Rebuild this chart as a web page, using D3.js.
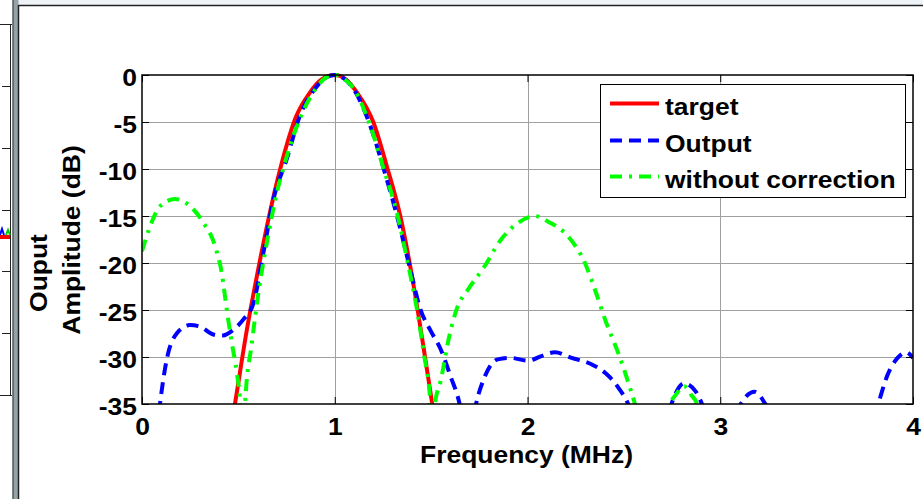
<!DOCTYPE html>
<html><head><meta charset="utf-8">
<script src="https://cdn.jsdelivr.net/npm/d3@7"></script>
<style>
body{margin:0;background:#fff;}
svg{display:block;}
text{font-family:"Liberation Sans",Arial,Helvetica,sans-serif;font-weight:bold;fill:#000;}
</style>
</head><body>
<svg id="chart" width="923" height="499"></svg>
<script>
// ---- data ----
const xTicks = [0, 1, 2, 3, 4];
const yTicks = [0, -5, -10, -15, -20, -25, -30, -35];
const xTickLabels = ["0", "1", "2", "3", "4"];
const yTickLabels = ["0", "-5", "-10", "-15", "-20", "-25", "-30", "-35"];

const targetFreq = [0.40, 0.483, 0.544, 0.596, 0.648, 0.717, 0.80, 0.87, 0.93, 1.0, 1.06, 1.115, 1.20, 1.27, 1.34, 1.41, 1.46, 1.505, 1.58];
const targetDb   = [-45, -34.9, -27.1, -21.4, -16.1, -10.0, -4.4, -1.9, -0.5, 0, -0.5, -1.85, -5.0, -9.7, -15.0, -22.5, -28.9, -34.9, -45];

const outputFreq = [0.06, 0.094, 0.128, 0.18, 0.249, 0.30, 0.37, 0.42, 0.474, 0.526, 0.578, 0.63, 0.682, 0.75, 0.82, 0.90, 0.96, 1.0, 1.05, 1.098, 1.184, 1.254, 1.323, 1.392, 1.444, 1.50, 1.55, 1.60, 1.65, 1.69, 1.733, 1.776, 1.846, 1.915, 2.003, 2.072, 2.142, 2.229, 2.334, 2.404, 2.473, 2.526, 2.64, 2.752, 2.813, 2.874, 2.909, 3.0, 3.101, 3.179, 3.24, 3.5, 3.816, 3.868, 3.92, 3.964, 4.0];
const outputDb   = [-42, -34.9, -30.3, -27.5, -26.6, -26.75, -27.6, -27.7, -27.1, -26.0, -24.3, -18.9, -13.2, -9.0, -4.3, -1.4, -0.2, 0, -0.4, -1.5, -5.4, -10.0, -15.0, -20.7, -24.9, -27.3, -29.2, -32.0, -35.2, -40, -35.0, -32.2, -30.25, -30.1, -30.4, -29.9, -29.5, -30.1, -30.8, -31.7, -33.3, -35.2, -45, -34.7, -32.8, -33.7, -35.2, -42, -35.2, -33.7, -35.2, -50, -35.2, -31.9, -30.1, -29.5, -30.1];

const withoutFreq = [0, 0.042, 0.094, 0.171, 0.249, 0.318, 0.379, 0.414, 0.44, 0.466, 0.492, 0.509, 0.522, 0.535, 0.57, 0.604, 0.648, 0.70, 0.752, 0.82, 0.90, 0.96, 1.0, 1.04, 1.10, 1.184, 1.254, 1.323, 1.375, 1.427, 1.462, 1.496, 1.508, 1.52, 1.55, 1.593, 1.636, 1.689, 1.776, 1.863, 1.95, 2.037, 2.107, 2.212, 2.299, 2.351, 2.404, 2.473, 2.526, 2.56, 2.65, 2.735, 2.77, 2.813, 2.848, 2.883, 2.95];
const withoutDb   = [-18.75, -16.1, -13.95, -13.2, -13.95, -15.7, -18.2, -21.1, -25.0, -28.5, -31.7, -34.9, -42, -34.9, -28.5, -23.2, -17.8, -12.5, -8.6, -4.6, -1.5, -0.2, 0, -0.3, -1.5, -5.4, -10.0, -14.7, -19.6, -25.0, -29.6, -34.9, -40, -35.0, -32.5, -27.9, -24.7, -22.9, -20.4, -17.5, -15.75, -15.0, -15.6, -17.2, -20.05, -22.9, -26.1, -29.7, -32.9, -35.2, -45, -35.2, -34.0, -33.1, -34.0, -35.2, -45];

const seriesNames = ["target", "Output", "without correction"];
const seriesColors = ["#ff0000", "#0000ff", "#00ff00"];
const seriesDash = [null, "12,7", "12,7,3,7"];

// ---- layout ----
const svg = d3.select("#chart");
const W = 923, H = 499;
const L = 142, R = 913, T = 75, B = 404;
const SX = 1.15; // horizontal glyph stretch
const FS = 23;

// window chrome around the figure
svg.append("rect").attr("x", 0).attr("y", 0).attr("width", W).attr("height", H).attr("fill", "#fff");
svg.append("rect").attr("x", 16).attr("y", 0).attr("width", W - 16).attr("height", 5).attr("fill", "#eef3f8");
svg.append("line").attr("x1", 18).attr("x2", W).attr("y1", 5.5).attr("y2", 5.5).attr("stroke", "#222").attr("stroke-width", 1.5);
// neighbour figure fragment
const lf = svg.append("g").attr("stroke", "#222").attr("stroke-width", 1);
lf.append("line").attr("x1", 0).attr("x2", 12).attr("y1", 24.5).attr("y2", 24.5);
lf.append("line").attr("x1", 10.5).attr("x2", 10.5).attr("y1", 24).attr("y2", 396);
lf.append("line").attr("x1", 0).attr("x2", 12).attr("y1", 395.5).attr("y2", 395.5);
[86, 148, 210, 271, 333].forEach(v => lf.append("line").attr("x1", 2).attr("x2", 10).attr("y1", v + 0.5).attr("y2", v + 0.5));
svg.append("rect").attr("x", 0).attr("y", 235).attr("width", 10).attr("height", 4).attr("fill", "#ff0000");
svg.append("path").attr("d", "M0,235 L2,229 L4,235").attr("fill", "none").attr("stroke", "#0000ff").attr("stroke-width", 2);
svg.append("path").attr("d", "M6,235 L8,230 L10,235").attr("fill", "none").attr("stroke", "#00cc00").attr("stroke-width", 2);
svg.append("rect").attr("x", 12.5).attr("y", 0).attr("width", 6).attr("height", H).attr("fill", "#94a3a7");
svg.append("line").attr("x1", 13).attr("x2", 13).attr("y1", 0).attr("y2", H).attr("stroke", "#333").attr("stroke-width", 1);
svg.append("line").attr("x1", 18.5).attr("x2", 18.5).attr("y1", 5).attr("y2", H).attr("stroke", "#222").attr("stroke-width", 1.5);

// scales
const x = d3.scaleLinear().domain([0, 4]).range([L, R]);
const y = d3.scaleLinear().domain([-35, 0]).range([B, T]);

// grid
const grid = svg.append("g").attr("stroke", "#a0a0a0").attr("stroke-width", 1);
xTicks.slice(1, -1).forEach(v => grid.append("line").attr("x1", Math.round(x(v)) + 0.5).attr("x2", Math.round(x(v)) + 0.5).attr("y1", T).attr("y2", B));
yTicks.slice(1, -1).forEach(v => grid.append("line").attr("x1", L).attr("x2", R).attr("y1", Math.round(y(v)) + 0.5).attr("y2", Math.round(y(v)) + 0.5));

// clip
svg.append("clipPath").attr("id", "clip").append("rect").attr("x", L).attr("y", T - 2).attr("width", R - L).attr("height", B - T + 2);

const line = d3.line().x(d => x(d[0])).y(d => y(d[1])).curve(d3.curveMonotoneX);
const series = [
  d3.zip(targetFreq, targetDb),
  d3.zip(outputFreq, outputDb),
  d3.zip(withoutFreq, withoutDb)
];
const plot = svg.append("g").attr("clip-path", "url(#clip)");
series.forEach((s, i) => {
  plot.append("path").datum(s).attr("d", line)
    .attr("fill", "none").attr("stroke", seriesColors[i]).attr("stroke-width", 4)
    .attr("stroke-dasharray", seriesDash[i]).attr("stroke-linejoin", "round");
});

// axes
function stretchText(sel) {
  sel.each(function () {
    const t = d3.select(this);
    t.attr("transform", `scale(${SX},1)`).attr("x", (+t.attr("x") || 0) / SX);
  });
}
const axL = svg.append("g").attr("transform", `translate(${L},0)`)
  .call(d3.axisLeft(y).tickValues(yTicks).tickFormat((d, i) => yTickLabels[i]).tickSizeInner(-7).tickSizeOuter(0).tickPadding(5));
const axB = svg.append("g").attr("transform", `translate(0,${B})`)
  .call(d3.axisBottom(x).tickValues(xTicks).tickFormat((d, i) => xTickLabels[i]).tickSizeInner(-7).tickSizeOuter(0).tickPadding(15));
const axT = svg.append("g").attr("transform", `translate(0,${T})`)
  .call(d3.axisTop(x).tickValues(xTicks).tickFormat("").tickSizeInner(-7).tickSizeOuter(0));
const axR = svg.append("g").attr("transform", `translate(${R},0)`)
  .call(d3.axisRight(y).tickValues(yTicks).tickFormat("").tickSizeInner(-7).tickSizeOuter(0));
[axL, axB, axT, axR].forEach(a => {
  a.select(".domain").remove();
  a.selectAll("line").attr("stroke", "#000").attr("stroke-width", 1);
  a.selectAll("text").attr("font-size", FS).attr("font-family", null).style("font-weight", "bold").attr("fill", "#000");
});
axL.selectAll("text").attr("dy", "0.45em").call(stretchText);
axB.selectAll("text").call(stretchText);

// frame
svg.append("rect").attr("x", L).attr("y", T).attr("width", R - L).attr("height", B - T)
  .attr("fill", "none").attr("stroke", "#000").attr("stroke-width", 1.5);

// axis titles
svg.append("text").attr("transform", `translate(${(L + R) / 2 - 1},463) scale(${SX},1)`)
  .attr("text-anchor", "middle").attr("font-size", FS).text("Frequency (MHz)");
svg.append("text").attr("transform", `translate(47,273) rotate(-90) scale(${SX},1)`)
  .attr("text-anchor", "middle").attr("font-size", FS).text("Ouput");
svg.append("text").attr("transform", `translate(80,240) rotate(-90) scale(${SX},1)`)
  .attr("text-anchor", "middle").attr("font-size", FS).text("Amplitude (dB)");

// legend
const lg = svg.append("g");
lg.append("rect").attr("x", 600.5).attr("y", 84.5).attr("width", 305).attr("height", 113)
  .attr("fill", "#fff").attr("stroke", "#000").attr("stroke-width", 1);
const rowY = [103.5, 140.5, 176.5];
seriesNames.forEach((n, i) => {
  lg.append("line").attr("x1", 610).attr("x2", 659).attr("y1", rowY[i]).attr("y2", rowY[i])
    .attr("stroke", seriesColors[i]).attr("stroke-width", 4).attr("stroke-dasharray", seriesDash[i]);
  lg.append("text").attr("transform", `translate(665,${rowY[i] + 11.5}) scale(${SX},1)`)
    .attr("font-size", FS).text(n);
});
</script>
</body></html>
